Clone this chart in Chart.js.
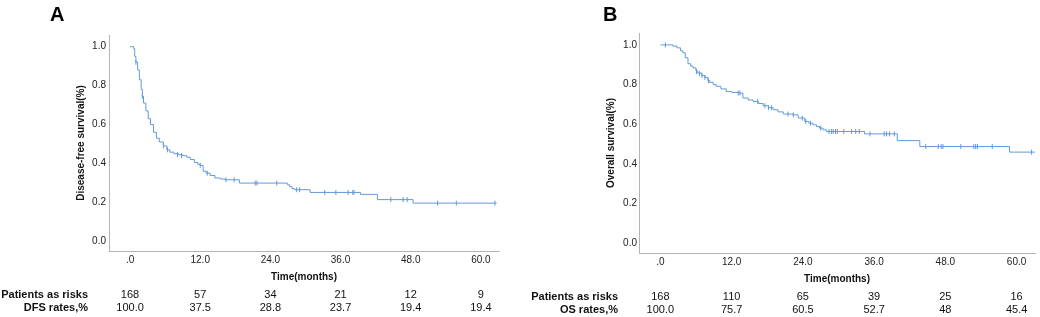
<!DOCTYPE html>
<html>
<head>
<meta charset="utf-8">
<script src="https://cdn.jsdelivr.net/npm/chart.js@4"></script>
<style>
  body { margin: 0; background: #fff; }
  #wrap { position: relative; width: 1040px; height: 317px; overflow: hidden; }
  .panel { position: absolute; top: 0; width: 520px; height: 317px; }
  .tag { position: absolute; top: 4px; font: bold 20px/20px "Liberation Sans", Arial, sans-serif; color: #000; }
</style>
</head>
<body>
<div id="wrap">
  <div class="panel" style="left:0"><canvas id="chartA" width="520" height="317"></canvas></div>
  <div class="panel" style="left:520px"><canvas id="chartB" width="520" height="317"></canvas></div>
  <div class="tag" style="left:50px">A</div>
  <div class="tag" style="left:603px">B</div>
</div>
<script>
// time ticks and risk table
let riskTimes = [0, 12, 24, 36, 48, 60];
let xTickLabels = [".0", "12.0", "24.0", "36.0", "48.0", "60.0"];
let yTicks = [0, 0.2, 0.4, 0.6, 0.8, 1.0];

let dfsAtRisk = ["168", "57", "34", "21", "12", "9"];
let dfsRates = ["100.0", "37.5", "28.8", "23.7", "19.4", "19.4"];
let osAtRisk = ["168", "110", "65", "39", "25", "16"];
let osRates = ["100.0", "75.7", "60.5", "52.7", "48", "45.4"];

// Kaplan-Meier steps (months, survival)
let dfsTime = [0, 0.6, 0.8, 1.0, 1.3, 1.6, 1.9, 2.1, 2.3, 2.7, 3.1, 3.5, 4.0, 4.5, 5.0, 5.7, 6.3, 6.8, 7.5, 8.3, 9.0, 9.7, 10.3, 11.0, 11.6, 12.0, 12.5, 13.0, 13.7, 14.5, 15.5, 16.2, 18.7, 26.9, 27.3, 27.7, 28.2, 30.8, 39.4, 42.3, 48.4, 62.7];
let dfsSurv = [1.0, 0.99, 0.95, 0.92, 0.88, 0.83, 0.78, 0.745, 0.71, 0.67, 0.63, 0.6, 0.56, 0.53, 0.51, 0.49, 0.47, 0.458, 0.45, 0.445, 0.44, 0.432, 0.42, 0.405, 0.395, 0.39, 0.36, 0.35, 0.338, 0.325, 0.32, 0.316, 0.299, 0.29, 0.28, 0.27, 0.265, 0.251, 0.241, 0.214, 0.196, 0.196];
let dfsCensorTime = [1.0, 2.1, 5.7, 6.4, 8.1, 8.8, 12.0, 13.2, 16.4, 17.8, 21.4, 21.7, 25.1, 28.5, 29.0, 33.3, 35.2, 37.3, 38.1, 38.3, 44.6, 46.7, 47.4, 52.6, 55.8, 62.4];
let dfsCensorSurv = [0.92, 0.745, 0.49, 0.47, 0.445, 0.44, 0.39, 0.35, 0.316, 0.316, 0.299, 0.299, 0.299, 0.265, 0.265, 0.251, 0.251, 0.251, 0.251, 0.251, 0.214, 0.214, 0.214, 0.196, 0.196, 0.196];

let osTime = [0, 2.1, 2.8, 3.4, 3.8, 4.2, 4.65, 5.1, 5.5, 6.0, 6.3, 7.0, 7.5, 8.0, 8.3, 8.9, 9.4, 10.2, 11.1, 12.0, 13.1, 13.9, 14.8, 15.6, 16.5, 17.3, 18.2, 19.0, 19.8, 20.7, 22.3, 23.2, 24.3, 25.0, 25.7, 26.3, 26.8, 27.4, 28.0, 34.4, 39.9, 43.7, 58.8, 63.1];
let osSurv = [1.0, 0.994, 0.985, 0.97, 0.96, 0.935, 0.905, 0.893, 0.884, 0.868, 0.858, 0.845, 0.836, 0.82, 0.811, 0.8, 0.791, 0.778, 0.765, 0.76, 0.757, 0.732, 0.722, 0.715, 0.704, 0.693, 0.683, 0.673, 0.662, 0.651, 0.647, 0.631, 0.614, 0.605, 0.597, 0.588, 0.58, 0.571, 0.563, 0.551, 0.517, 0.487, 0.459, 0.459];
let osCensorTime = [0.84, 6.1, 6.6, 7.0, 7.5, 8.1, 13.1, 13.4, 16.4, 17.6, 18.2, 18.7, 21.5, 22.4, 23.9, 24.5, 25.3, 27.0, 28.4, 28.8, 29.1, 29.5, 29.8, 30.9, 32.2, 32.9, 33.5, 35.3, 37.7, 38.1, 38.6, 39.4, 44.7, 46.8, 47.3, 47.6, 50.6, 52.8, 53.1, 53.4, 55.9, 62.5];
let osCensorSurv = [1.0, 0.865, 0.855, 0.845, 0.836, 0.82, 0.757, 0.757, 0.715, 0.693, 0.683, 0.683, 0.651, 0.647, 0.631, 0.614, 0.605, 0.58, 0.563, 0.563, 0.563, 0.563, 0.563, 0.563, 0.563, 0.563, 0.563, 0.551, 0.551, 0.551, 0.551, 0.551, 0.487, 0.487, 0.487, 0.487, 0.487, 0.487, 0.487, 0.487, 0.487, 0.459];

const FONT = '"Liberation Sans", Arial, Helvetica, sans-serif';
const LINE = "#6399da";
const AXIS = "#b4b4b4";

function pairs(xs, ys) {
    return xs.map((x, i) => ({ x: x, y: ys[i] }));
}

// draws the numbers-at-risk table under the x axis
const riskTable = {
    id: "riskTable",
    afterDraw(chart, args, opts) {
        let { ctx, chartArea } = chart;
        let x = chart.scales.x;
        let y1 = chartArea.bottom + 44;
        let y2 = chartArea.bottom + 57;

        ctx.save();
        ctx.fillStyle = "#111";
        ctx.textBaseline = "middle";
        ctx.font = "bold 11px " + FONT;
        ctx.textAlign = "right";
        ctx.fillText(opts.rowLabels[0], chartArea.left - 21, y1);
        ctx.fillText(opts.rowLabels[1], chartArea.left - 21, y2);

        ctx.font = "11px " + FONT;
        ctx.textAlign = "center";
        riskTimes.forEach((t, i) => {
            let px = x.getPixelForValue(t);
            ctx.fillText(opts.atRisk[i], px, y1);
            ctx.fillText(opts.rates[i], px, y2);
        });
        ctx.restore();
    }
};

function makeChart(id, cfg) {
    let ctx = document.getElementById(id).getContext("2d");

    return new Chart(ctx, {
        type: "line",
        data: {
            datasets: [{
                data: pairs(cfg.time, cfg.surv),
                borderColor: LINE,
                borderWidth: 1,
                stepped: true,
                pointRadius: 0,
                fill: false
            }, {
                data: pairs(cfg.censorTime, cfg.censorSurv),
                showLine: false,
                pointStyle: "line",
                rotation: 90,
                pointRadius: 2.5,
                pointBorderColor: LINE,
                pointBorderWidth: 1
            }]
        },
        options: {
            responsive: false,
            animation: false,
            devicePixelRatio: 1,
            layout: { padding: cfg.padding },
            plugins: {
                legend: { display: false },
                tooltip: { enabled: false },
                riskTable: { rowLabels: cfg.rowLabels, atRisk: cfg.atRisk, rates: cfg.rates }
            },
            scales: {
                x: {
                    type: "linear",
                    min: -3.6,
                    max: 63.1,
                    grid: { display: false, drawTicks: false },
                    border: { display: true, color: AXIS, width: 1 },
                    afterBuildTicks: s => { s.ticks = riskTimes.map(v => ({ value: v })); },
                    afterFit: s => { s.height = 32; },
                    ticks: {
                        padding: 3,
                        maxRotation: 0,
                        color: "#222",
                        font: { family: FONT, size: 10 },
                        callback: (v) => xTickLabels[riskTimes.indexOf(v)]
                    },
                    title: {
                        display: true,
                        text: "Time(months)",
                        color: "#111",
                        padding: 0,
                        font: { family: FONT, size: 10, weight: "bold" }
                    }
                },
                y: {
                    min: -0.05,
                    max: 1.06,
                    grid: { display: false, drawTicks: false },
                    border: { display: true, color: AXIS, width: 1 },
                    afterBuildTicks: s => { s.ticks = yTicks.map(v => ({ value: v })); },
                    afterFit: s => { s.width = 34; },
                    ticks: {
                        padding: cfg.yPad,
                        color: "#222",
                        font: { family: FONT, size: 10 },
                        callback: v => v.toFixed(1)
                    },
                    title: {
                        display: true,
                        text: cfg.yTitle,
                        color: "#111",
                        padding: 0,
                        font: { family: FONT, size: 10, weight: "bold" }
                    }
                }
            }
        },
        plugins: [riskTable]
    });
}

makeChart("chartA", {
    time: dfsTime, surv: dfsSurv,
    censorTime: dfsCensorTime, censorSurv: dfsCensorSurv,
    yTitle: "Disease-free survival(%)",
    rowLabels: ["Patients as risks", "DFS rates,%"],
    atRisk: dfsAtRisk, rates: dfsRates,
    padding: { left: 75, right: 21, top: 35, bottom: 34 },
    yPad: 3
});

makeChart("chartB", {
    time: osTime, surv: osSurv,
    censorTime: osCensorTime, censorSurv: osCensorSurv,
    yTitle: "Overall survival(%)",
    rowLabels: ["Patients as risks", "OS rates,%"],
    atRisk: osAtRisk, rates: osRates,
    padding: { left: 85, right: 5, top: 33, bottom: 32 },
    yPad: 2
});
</script>
</body>
</html>
